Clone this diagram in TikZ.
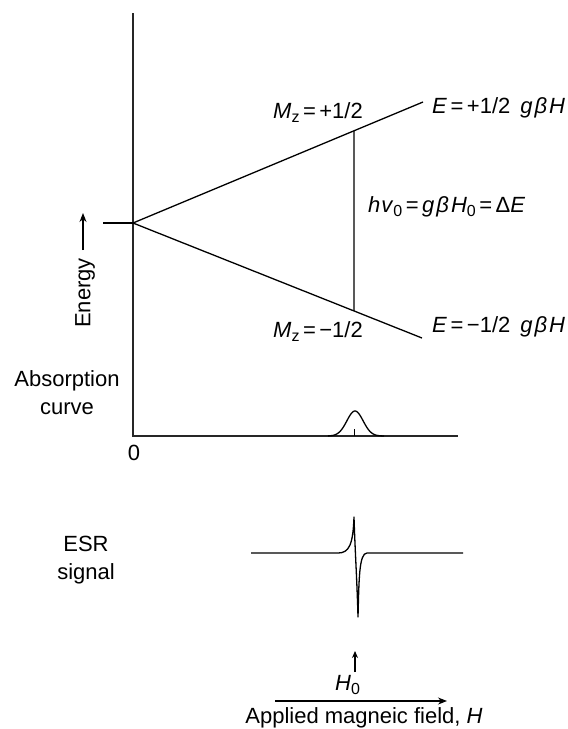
\documentclass[tikz,border=0pt]{standalone}
\usepackage{fontspec}
\setmainfont{Liberation Sans}
\usetikzlibrary{arrows.meta,calc}
\newcommand{\subz}[1]{\raisebox{-0.35ex}{\fontsize{16}{16}\selectfont #1}}
\newcommand{\eqs}{\hspace{3.5pt}=\hspace{3.5pt}}
\newcommand{\gbh}{\textit{g}\hspace{2pt}\textit{β}\hspace{2pt}\textit{H}}
\tikzset{
  lbl/.style={inner sep=0pt, font=\fontsize{22}{28}\selectfont},
  axisline/.style={line width=1.6pt, draw=black!85},
  levelline/.style={line width=1.3pt},
  curveline/.style={line width=1.3pt, line join=round},
  arr/.style={line width=1.2pt, -{Stealth[length=9pt,width=7pt]}}
}
\begin{document}
\begin{tikzpicture}[x=1pt,y=-1pt]
\useasboundingbox (0,0) rectangle (568,729);
% axes
\coordinate (Atop) at (133,13);
\coordinate (A0) at (133,436);
\coordinate (Aend) at (458,436);
\draw[axisline] (Atop) -- (A0) -- (Aend);
% energy levels
\coordinate (O) at (133,223);
\coordinate (S) at (103,223);
\coordinate (Up) at (423,102);
\coordinate (Lo) at (422,338);
\draw[levelline] (S) -- (O);
\draw[levelline] (O) -- (Up);
\draw[levelline] (O) -- (Lo);
\coordinate (T1) at ($(O)!0.762!(Up)$);
\coordinate (T2) at ($(O)!0.765!(Lo)$);
\draw[levelline] (T1) -- (T2);
% labels
\node[lbl, anchor=base west] (mzp) at (273,118) {\textit{M}\subz{z}\eqs+1/2};
\node[lbl, anchor=base west] (ep) at (432,113) {\textit{E}\eqs+1/2\hspace{10pt}\gbh};
\node[lbl, anchor=base west] (hv) at (368,212) {\textit{h}\hspace{1pt}\textit{v}\subz{0}\eqs\gbh\subz{0}\eqs Δ\textit{E}};
\node[lbl, anchor=base west] (em) at (432,332) {\textit{E}\eqs−1/2\hspace{10pt}\gbh};
\node[lbl, anchor=base west] (mzm) at (273,337) {\textit{M}\subz{z}\eqs−1/2};
% energy axis label
\node[lbl, rotate=90, anchor=center] (energy) at (85,293) {Energy};
\coordinate (EA1) at (83,250);
\coordinate (EA2) at (83,213);
\draw[arr] (EA1) -- (EA2);
% absorption
\node[lbl, align=center] (abs) at (67,393) {Absorption\\curve};
\node[lbl] (zero) at (134,453) {0};
\draw[curveline] plot[domain=328:384, samples=60, smooth] (\x, {436-25*exp(-((\x-355)/11.5)^2)});
\coordinate (tk1) at (354,436);
\coordinate (tk2) at (354,429);
\draw[line width=1pt] (tk1) -- (tk2);
% ESR signal
\node[lbl, align=center] (esr) at (86,560) {ESR\\signal};
\coordinate (L0) at (251,553);
\coordinate (L1) at (338,553);
\coordinate (Pk) at (354,517);
\coordinate (Tr) at (358,617);
\coordinate (R1) at (373,553);
\coordinate (R0) at (463,553);
\draw[curveline] (L0) -- (L1) .. controls (349,553) and (353,545) .. (Pk)
  .. controls (355,550) and (357,580) .. (Tr)
  .. controls (359,580) and (359,553) .. (367,553) -- (R1) -- (R0);
% field axis
\coordinate (h1) at (355,672);
\coordinate (h2) at (355,651);
\draw[line width=1.1pt, -{Stealth[length=7pt,width=6pt]}] (h1) -- (h2);
\node[lbl, anchor=base west] (h0) at (335,690) {\textit{H}\subz{0}};
\coordinate (f1) at (275,701);
\coordinate (f2) at (447,701);
\draw[line width=1.1pt, -{Stealth[length=9pt,width=7pt]}] (f1) -- (f2);
\node[lbl, anchor=base] (field) at (364,723) {Applied magneic field, \textit{H}};
\end{tikzpicture}
\end{document}
